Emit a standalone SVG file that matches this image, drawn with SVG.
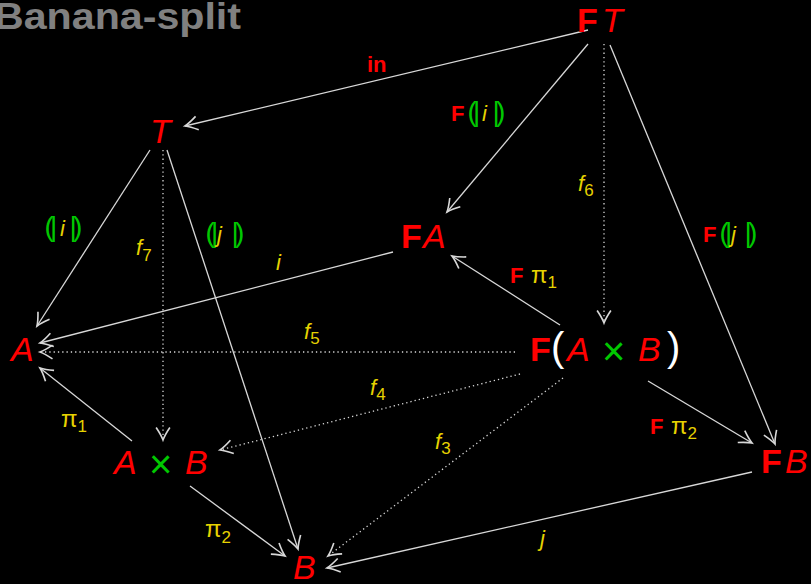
<svg xmlns="http://www.w3.org/2000/svg" width="811" height="584" viewBox="0 0 811 584">
<style>
text{font-family:"Liberation Sans","DejaVu Sans",sans-serif}
.n{font-size:34px}
.b{font-weight:bold;fill:#ff0000}
.r{fill:#ff0000;font-style:italic}
.g{fill:#00c800}
.w{fill:#ffffff}
.y{fill:#e6d200;font-style:italic}
.yp{fill:#e6d200}
.l{font-size:22px}
.br{fill:#00c800;font-size:28px}
.sub{font-size:17px;font-style:normal}
.e{fill:none;stroke:#d8d8d8;stroke-width:1.3;marker-end:url(#ah)}
.d{stroke-dasharray:1.3 3}
</style>
<defs>
<marker id="ah" markerUnits="userSpaceOnUse" markerWidth="20" markerHeight="20" viewBox="-12 -8 14 16" refX="0" refY="0" orient="auto">
<path d="M-10,-5.5 Q-4,-1.5 0,0 Q-4,1.5 -10,5.5" fill="none" stroke="#d8d8d8" stroke-width="1.3"/>
</marker>
</defs>
<rect width="811" height="584" fill="#000"/>
<text x="-6" y="29" font-size="36" font-weight="bold" fill="#808080" textLength="247" lengthAdjust="spacingAndGlyphs">Banana-split</text>

<g id="edges">
<line class="e" x1="588" y1="30" x2="185" y2="126"/>
<line class="e" x1="588" y1="44" x2="447" y2="212"/>
<line class="e d" x1="604" y1="44" x2="604" y2="323"/>
<line class="e" x1="610" y1="45" x2="775" y2="444"/>
<line class="e" x1="150" y1="150" x2="37" y2="326"/>
<line class="e d" x1="163" y1="150" x2="163" y2="440"/>
<line class="e" x1="167" y1="150" x2="298" y2="549"/>
<line class="e" x1="393" y1="252" x2="40" y2="343"/>
<line class="e" x1="560" y1="325" x2="452" y2="256"/>
<line class="e d" x1="515" y1="352" x2="40" y2="352"/>
<line class="e d" x1="520" y1="374" x2="220" y2="450"/>
<line class="e d" x1="563" y1="378" x2="328" y2="556"/>
<line class="e" x1="648" y1="381" x2="752" y2="443"/>
<line class="e" x1="132" y1="441" x2="40" y2="368"/>
<line class="e" x1="190" y1="486" x2="285" y2="556"/>
<line class="e" x1="752" y1="472" x2="327" y2="568"/>
</g>

<g id="node-FT"><text class="n" y="32"><tspan class="b" x="577">F</tspan><tspan class="r" x="602">T</tspan></text></g>
<g id="node-T"><text class="n" y="143"><tspan class="r" x="150">T</tspan></text></g>
<g id="node-FA"><text class="n" y="248"><tspan class="b" x="401">F</tspan><tspan class="r" x="423">A</tspan></text></g>
<g id="node-A"><text class="n" y="361"><tspan class="r" x="11">A</tspan></text></g>
<g id="node-FAxB"><text class="n" y="361"><tspan class="b" x="530">F</tspan><tspan class="w" x="551" font-size="40">(</tspan><tspan class="r" x="567">A</tspan><tspan class="g" x="602" y="365" font-size="40">×</tspan><tspan class="r" x="638" y="361">B</tspan><tspan class="w" x="667" font-size="40">)</tspan></text></g>
<g id="node-AxB"><text class="n" y="474"><tspan class="r" x="114">A</tspan><tspan class="g" x="149" y="478" font-size="40">×</tspan><tspan class="r" x="185" y="474">B</tspan></text></g>
<g id="node-FB"><text class="n" y="473"><tspan class="b" x="761">F</tspan><tspan class="r" x="785">B</tspan></text></g>
<g id="node-B"><text class="n" y="579"><tspan class="r" x="293">B</tspan></text></g>

<g id="labels">
<text class="l" y="72"><tspan class="b" x="367">in</tspan></text>
<text class="l" y="121"><tspan class="b" x="451">F</tspan><tspan class="br" x="467.5">(</tspan><tspan class="br" x="473">|</tspan><tspan class="y" x="482">i</tspan><tspan class="br" x="492.5">|</tspan><tspan class="br" x="496">)</tspan></text>
<text class="l" y="242"><tspan class="b" x="703">F</tspan><tspan class="br" x="719.5">(</tspan><tspan class="br" x="725">|</tspan><tspan class="y" x="731">j</tspan><tspan class="br" x="744.5">|</tspan><tspan class="br" x="748">)</tspan></text>
<text class="l" y="236"><tspan class="br" x="44.5">(</tspan><tspan class="br" x="50">|</tspan><tspan class="y" x="60">i</tspan><tspan class="br" x="69.5">|</tspan><tspan class="br" x="73">)</tspan></text>
<text class="l" y="242"><tspan class="br" x="205.5">(</tspan><tspan class="br" x="211">|</tspan><tspan class="y" x="217">j</tspan><tspan class="br" x="231.5">|</tspan><tspan class="br" x="235">)</tspan></text>
<text class="l y" x="578" y="191">f<tspan class="sub" dy="5">6</tspan></text>
<text class="l y" x="136" y="255">f<tspan class="sub" dy="6">7</tspan></text>
<text class="l y" x="304" y="339">f<tspan class="sub" dy="5">5</tspan></text>
<text class="l y" x="370" y="395">f<tspan class="sub" dy="5">4</tspan></text>
<text class="l y" x="435" y="449">f<tspan class="sub" dy="5">3</tspan></text>
<text class="l y" x="276" y="270">i</text>
<text class="l y" x="540" y="546">j</text>
<text class="l" y="283"><tspan class="b" x="510">F</tspan><tspan class="yp" x="531" font-size="24">π</tspan><tspan class="yp sub" dy="5">1</tspan></text>
<text class="l" y="434"><tspan class="b" x="650">F</tspan><tspan class="yp" x="671" font-size="24">π</tspan><tspan class="yp sub" dy="5">2</tspan></text>
<text class="l" y="427"><tspan class="yp" x="61" font-size="24">π</tspan><tspan class="yp sub" dy="5">1</tspan></text>
<text class="l" y="537"><tspan class="yp" x="205" font-size="24">π</tspan><tspan class="yp sub" dy="6">2</tspan></text>
</g>
</svg>
